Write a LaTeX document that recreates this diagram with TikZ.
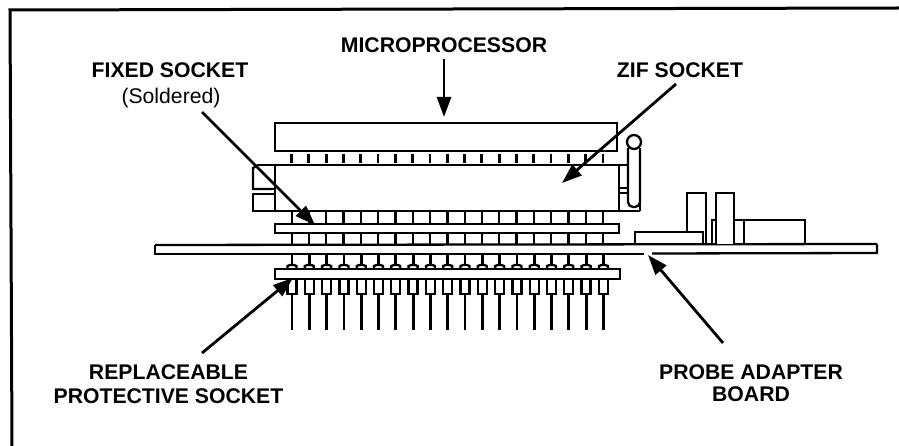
\documentclass[tikz,border=0pt]{standalone}
\usepackage{fontspec}
\setmainfont{Liberation Sans}
\usetikzlibrary{arrows.meta}
\tikzset{
  part/.style={draw=black,line width=2.3pt,fill=white},
  wire/.style={draw=black,line width=2.3pt},
  pinline/.style={draw=black,line width=2.8pt},
  heavy/.style={draw=black,line width=3pt},
  callout/.style={draw=black,line width=2.8pt,-{Triangle[length=20pt,width=14pt]}},
  head/.style={font=\fontsize{21.2}{24}\selectfont\bfseries,inner sep=0pt,text=black},
  sub/.style={font=\fontsize{21.2}{24}\selectfont,inner sep=0pt,text=black}
}
\begin{document}
\begin{tikzpicture}[x=1pt,y=-1pt]
\useasboundingbox (0,0) rectangle (899,446);
% frame
\draw[heavy] (12,446) -- (10,10) -- (899,8);
% microprocessor
\draw[part] (275,123) rectangle (617,151);
\foreach \k in {0,...,18}{
  \pgfmathsetmacro{\px}{291.5+17.3*\k}
  \draw[pinline] (\px,154) -- (\px,163);
}
% ZIF body and left blocks
\draw[wire] (258,165) -- (628,165);
\draw[wire] (275,165) -- (275,211);
\draw[wire] (258,165) -- (253,168) -- (253,189) -- (275,189);
\draw[wire] (253,194) rectangle (275,211);
\draw[wire] (619,165) -- (619,211);
\draw[wire] (619,188) -- (628,188);
\draw[wire] (619,193) -- (628,193);
% lever
\draw[wire] (634,142) circle (7);
\draw[wire,rounded corners=5pt] (628,148) -- (628,207) -- (640,207) -- (640,148);
\draw[wire] (640,190) -- (640,211);
\draw[wire] (253,211) -- (640,211);
% fixed socket
\draw[part] (275,224) rectangle (619,233);
\foreach \k in {0,...,18}{
  \pgfmathsetmacro{\px}{291.7+17.3*\k}
  \draw[wire] (\px,211) -- (\px,224);
  \draw[wire] (\px,233) -- (\px,245);
}
% board
\draw[wire] (155,245) -- (877,244);
\draw[wire] (155,245) -- (155,254) -- (644,254);
\draw[wire] (652,253.5) -- (877,253) -- (877,244);
% parts on the board
\draw[wire] (712,243) -- (712,220) -- (805,220) -- (805,243);
\draw[wire] (744,220) -- (744,243);
\draw[part] (687,232) -- (687,193) -- (706,193) -- (706,243);
\draw[part] (635,243) -- (635,232) -- (703,232) -- (703,243);
\draw[part] (716,244) -- (716,193) -- (734,193) -- (734,244);
% protective socket with pins
\foreach \k in {0,...,18}{
  \pgfmathsetmacro{\px}{292+17.3*\k}
  \draw[pinline] (\px,254) -- (\px,265);
  \draw[wire] (\px-4.5,269) -- (\px-4.5,266) -- (\px-2,265) -- (\px+2,265) -- (\px+4.5,266) -- (\px+4.5,269);
  \draw[wire] (\px-4.5,279) rectangle (\px+4.5,294);
  \draw[pinline] (\px,294) -- (\px,330);
}
\draw[part] (275,279) -- (275,269) -- (620,269) -- (620,279) -- cycle;
% labels
\node[head] (lcpu) at (444,45) {MICROPROCESSOR};
\node[head] (lfix) at (170,70.5) {FIXED SOCKET};
\node[sub]  (lsol) at (171,98.5) {(Soldered)};
\node[head] (lzif) at (680,70.5) {ZIF SOCKET};
\node[head] (lrep) at (168.5,372) {REPLACEABLE};
\node[head] (lpro) at (168.5,396.5) {PROTECTIVE SOCKET};
\node[head] (lprb) at (751,372) {PROBE ADAPTER};
\node[head] (lbrd) at (751,394) {BOARD};
% connectors
\coordinate (acpu) at (444,59);  \coordinate (tcpu) at (444,117);
\coordinate (afix) at (202,112); \coordinate (tfix) at (315,225);
\coordinate (azif) at (676,84);  \coordinate (tzif) at (562,183);
\coordinate (arep) at (202,353); \coordinate (trep) at (293,278);
\coordinate (aprb) at (723,343); \coordinate (tprb) at (648,255);
\draw[callout] (acpu) -- (tcpu);
\draw[callout] (afix) -- (tfix);
\draw[callout] (azif) -- (tzif);
\draw[callout] (arep) -- (trep);
\draw[callout] (aprb) -- (tprb);
\end{tikzpicture}
\end{document}
